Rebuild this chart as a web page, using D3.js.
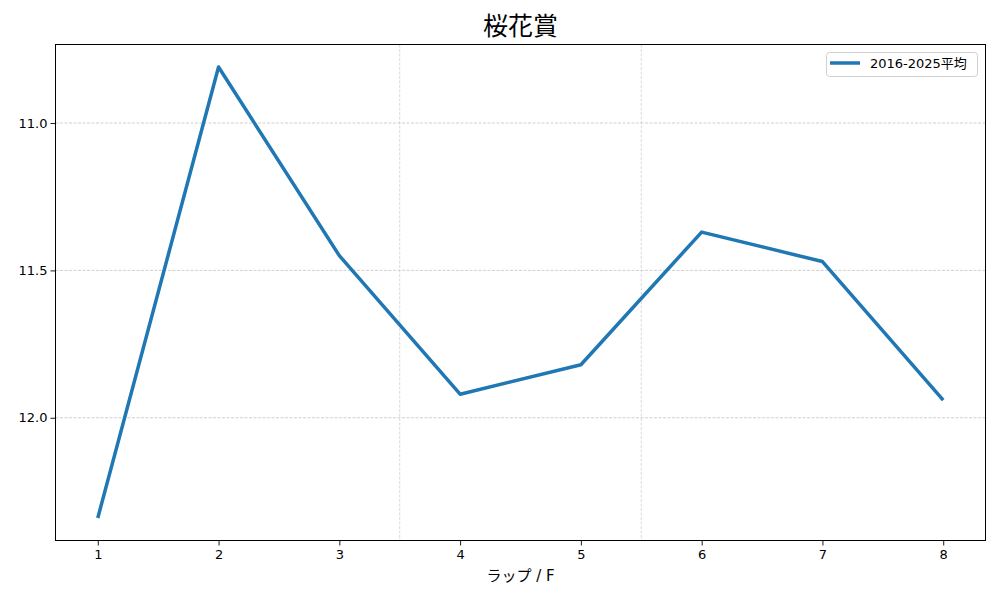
<!DOCTYPE html>
<html><head><meta charset="utf-8">
<script src="https://cdn.jsdelivr.net/npm/d3@7"></script>
<style>body{margin:0;background:#fff}svg{display:block}text{font-family:"DejaVu Sans","Noto Sans CJK JP",sans-serif}</style>
</head><body><svg id="c" width="1000" height="600"></svg>
<script>
const laps = [1,2,3,4,5,6,7,8];
const avg = [12.34, 10.81, 11.45, 11.92, 11.82, 11.37, 11.47, 11.94];
const yTicks = [11.0, 11.5, 12.0];
const sectionLines = [3.5, 5.5];
const title = "桜花賞";
const seriesName = "2016-2025平均";
const xLabel = "ラップ / F";

const svg = d3.select("#c");
const L=55.5,R=985.5,T=44.5,B=540.5;
const x = d3.scaleLinear().domain([0.65, 8.35]).range([L,R]);
const ext = d3.extent(avg), pad=(ext[1]-ext[0])*0.05;
const y = d3.scaleLinear().domain([ext[0]-pad, ext[1]+pad]).range([T,B]);

// grid
svg.append("g").selectAll("line").data(yTicks).join("line")
 .attr("x1",L).attr("x2",R).attr("y1",d=>y(d)).attr("y2",d=>y(d))
 .attr("stroke","#b0b0b0").attr("stroke-width",0.6).attr("stroke-dasharray","3,1.5");
svg.append("g").selectAll("line").data(sectionLines).join("line")
 .attr("x1",d=>x(d)).attr("x2",d=>x(d)).attr("y1",T).attr("y2",B)
 .attr("stroke","#c0c0c0").attr("stroke-width",0.6).attr("stroke-dasharray","3,1.5");

// line
svg.append("path").datum(avg.map((v,i)=>[laps[i],v]))
 .attr("d", d3.line().x(d=>x(d[0])).y(d=>y(d[1])))
 .attr("fill","none").attr("stroke","#1f77b4").attr("stroke-width",3.5).attr("stroke-linejoin","round");

// axes
const xa = svg.append("g").attr("transform",`translate(0,${B})`)
 .call(d3.axisBottom(x).tickValues(laps).tickFormat(d3.format("d")).tickSize(5).tickSizeOuter(0));
const ya = svg.append("g").attr("transform",`translate(${L},0)`)
 .call(d3.axisLeft(y).tickValues(yTicks).tickFormat(d3.format(".1f")).tickSize(5).tickSizeOuter(0));
[xa,ya].forEach(a=>{a.select(".domain").remove();a.selectAll("text").attr("font-size",13).attr("fill","#000");a.selectAll(".tick line").attr("stroke","#000").attr("stroke-width",0.9);});
xa.selectAll("text").attr("dy","0.71em").attr("y",9);
ya.selectAll("text").attr("x",-8);

svg.append("rect").attr("x",L).attr("y",T).attr("width",R-L).attr("height",B-T)
 .attr("fill","none").attr("stroke","#000").attr("stroke-width",1);

svg.append("text").attr("x",(L+R)/2).attr("y",35).attr("text-anchor","middle")
 .attr("font-size",25).text(title);
svg.append("text").attr("x",(L+R)/2).attr("y",581).attr("text-anchor","middle")
 .attr("font-size",15).text(xLabel);

// legend
const lg = svg.append("g");
lg.append("rect").attr("x",826.5).attr("y",52.5).attr("width",151).attr("height",24).attr("rx",3)
 .attr("fill","#fff").attr("fill-opacity",0.8).attr("stroke","#d0d0d0");
lg.append("line").attr("x1",830).attr("x2",860).attr("y1",63).attr("y2",63)
 .attr("stroke","#1f77b4").attr("stroke-width",3.5);
lg.append("text").attr("x",870).attr("y",68).attr("font-size",13).text(seriesName);
</script></body></html>
